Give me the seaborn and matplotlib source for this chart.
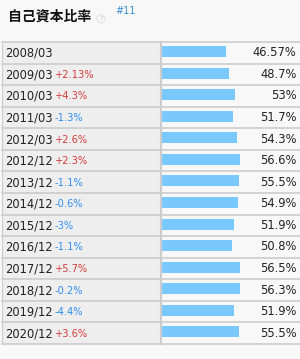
import pandas as pd
import matplotlib.pyplot as plt
import seaborn as sns

# Equity ratio by period
periods = ['2008/03', '2009/03', '2010/03', '2011/03', '2012/03', '2012/12', '2013/12',
           '2014/12', '2015/12', '2016/12', '2017/12', '2018/12', '2019/12', '2020/12']
ratio = [46.57, 48.7, 53, 51.7, 54.3, 56.6, 55.5, 54.9, 51.9, 50.8, 56.5, 56.3, 51.9, 55.5]
ratio_labels = ['46.57%', '48.7%', '53%', '51.7%', '54.3%', '56.6%', '55.5%',
                '54.9%', '51.9%', '50.8%', '56.5%', '56.3%', '51.9%', '55.5%']
changes = ['', '+2.13%', '+4.3%', '-1.3%', '+2.6%', '+2.3%', '-1.1%',
           '-0.6%', '-3%', '-1.1%', '+5.7%', '-0.2%', '-4.4%', '+3.6%']

df = pd.DataFrame({'period': periods, 'ratio': ratio})
n = len(periods)

W, H = 300, 359
fig = plt.figure(figsize=(W / 100, H / 100), dpi=100)
fig.patch.set_facecolor('#f8f8f8')

top, bottom = 42, 344
split = 161
shift = 0.06


def box(x0, x1):
    return [x0 / W, 1 - bottom / H, (x1 - x0) / W, (bottom - top) / H]


# left column: periods + change
axl = fig.add_axes(box(2, split))
axl.set_facecolor('#eeeeee')
axl.set_xlim(0, 1)
axl.set_ylim(n - 0.5, -0.5)
axl.set_xticks([])
axl.set_yticks([])
for s in axl.spines.values():
    s.set_visible(False)
axl.spines['left'].set_visible(True)
axl.spines['left'].set_color('#cccccc')

x0 = 3 / (split - 2)
for i, (p, c) in enumerate(zip(periods, changes)):
    t = axl.text(x0, i + 0.02, p, va='center', ha='left', fontsize=8.3,
                 color='#222222', family='DejaVu Sans')
    if c:
        col = '#d43c3c' if c.startswith('+') else '#2f8ff0'
        axl.annotate(c, xy=(1, 0.5), xycoords=t, xytext=(1.5, 0), textcoords='offset points',
                     va='center', ha='left', fontsize=7.1, color=col, family='DejaVu Sans')

# right column: bars
axr = fig.add_axes(box(split, W))
axr.set_facecolor('#f8f8f8')
sns.barplot(data=df, y='period', x='ratio', orient='h', color='#79c9ff',
            saturation=1, width=0.51, ax=axr)
axr.set_xlim(0, (W - split) / 1.4)
axr.set_ylim(n - 0.5 + shift, -0.5 + shift)
axr.set_xticks([])
axr.set_yticks([])
axr.set_xlabel('')
axr.set_ylabel('')
for s in axr.spines.values():
    s.set_visible(False)
axr.spines['left'].set_visible(True)
axr.spines['left'].set_color('#cccccc')
axr.spines['left'].set_linewidth(1.5)
for i, lab in enumerate(ratio_labels):
    axr.text(0.975, i + shift, lab, transform=axr.get_yaxis_transform(), ha='right',
             va='center', fontsize=8.3, color='#222222', family='DejaVu Sans')

# row lines
for i in range(n + 1):
    y = i - 0.5
    axl.axhline(y, color='#cccccc', lw=1.2, clip_on=False)
    axr.axhline(y + shift, color='#cccccc', lw=1.2, clip_on=False)

# title
fig.text(8 / W, 1 - 17 / H, '自己資本比率', fontsize=10, fontweight='bold',
         family=['Noto Sans CJK JP', 'DejaVu Sans'], va='center', ha='left', color='#111111')
fig.text(99 / W, 1 - 19 / H, '?', fontsize=5, color='#cccccc', va='center', ha='left',
         bbox=dict(boxstyle='circle,pad=0.15', fc='none', ec='#dddddd', lw=0.6))
fig.text(115 / W, 1 - 11 / H, '#11', fontsize=7, color='#3a8fd8', va='center', ha='left',
         family='DejaVu Sans')

plt.savefig('out.png', dpi=100, facecolor=fig.get_facecolor())
